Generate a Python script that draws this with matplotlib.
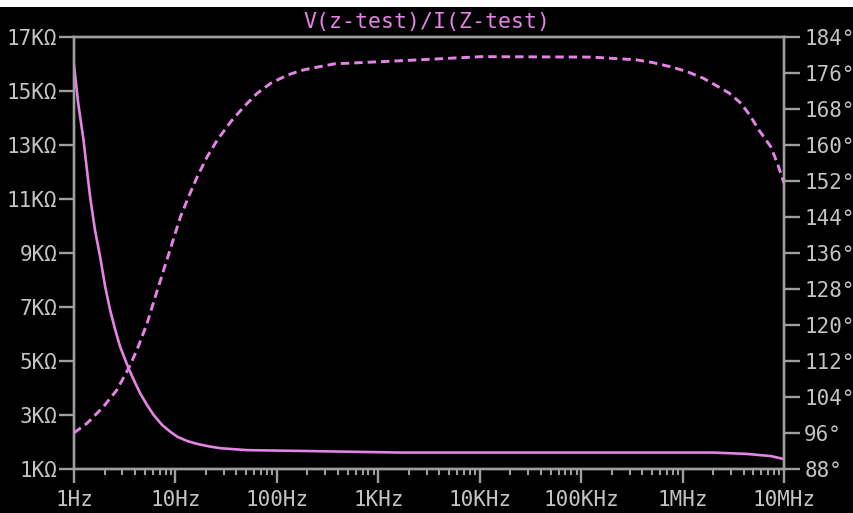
import numpy as np
import matplotlib
matplotlib.use('Agg')
import matplotlib.pyplot as plt
from matplotlib.ticker import FixedLocator, LogLocator, NullFormatter, FixedFormatter
from matplotlib.patches import Rectangle

# Magnitude curve (solid), freq in Hz, |Z| in KOhm
mag_freq = [1, 1.10, 1.24, 1.44, 1.61, 1.81, 2.03, 2.27, 2.55, 2.85, 3.45, 4.02, 4.5,
            5.25, 6.1, 7.4, 8.9, 10.4, 13, 16.4, 22, 27.9, 51, 172, 1700, 2.0e6, 4.3e6,
            7.4e6, 1e7]
mag_kohm = [15.97, 14.56, 13.2, 11.1, 9.86, 8.87, 7.76, 6.9, 6.16, 5.54, 4.74, 4.19, 3.81,
            3.38, 3.01, 2.64, 2.39, 2.21, 2.05, 1.94, 1.84, 1.78, 1.71, 1.68, 1.62, 1.62, 1.57,
            1.49, 1.38]

# Phase curve (dashed), degrees
ph_freq = [1, 1.34, 1.95, 2.64, 3.45, 4.17, 5.25, 6.34, 7.66, 9.27, 11.2, 13.5, 16.4, 20.6,
           25.9, 35, 47.4, 64.3, 87.2, 127, 172, 216, 370, 1690, 10400, 127000, 348000,
           504000, 747000, 1.1e6, 1.6e6, 2.1e6, 2.88e6, 3.78e6, 4.6e6, 5.65e6, 7.4e6,
           8.6e6, 1e7]
ph_deg = [96.1, 98.2, 101.9, 105.6, 110.4, 114.5, 120.4, 126.4, 132.3, 138.2, 144.1, 148.6,
          153.0, 157.5, 161.2, 165.2, 168.6, 171.6, 173.8, 175.6, 176.6, 177.1, 178.1, 178.8,
          179.7, 179.6, 179.0, 178.4, 177.5, 176.4, 174.9, 173.4, 171.6, 169.3, 166.7,
          163.4, 159.7, 156.0, 151.6]

x_ticks = [1, 10, 100, 1e3, 1e4, 1e5, 1e6, 1e7]
x_labels = ['1Hz', '10Hz', '100Hz', '1KHz', '10KHz', '100KHz', '1MHz', '10MHz']
left_ticks = [1, 3, 5, 7, 9, 11, 13, 15, 17]
left_labels = ['%dKΩ' % v for v in left_ticks]
right_ticks = [88, 96, 104, 112, 120, 128, 136, 144, 152, 160, 168, 176, 184]
right_labels = ['%d°' % v for v in right_ticks]

title = 'V(z-test)/I(Z-test)'
curve_col = '#e683e6'
axis_col = '#9e9e9e'
text_col = '#c4c4c4'

plt.rcParams['font.family'] = ['DejaVu Sans Mono', 'DejaVu Sans']

fig = plt.figure(figsize=(8.54, 5.13), dpi=100, facecolor='black')
fig.patches.append(Rectangle((0, 1 - 7 / 513), 1, 7 / 513, transform=fig.transFigure,
                             facecolor='white', edgecolor='none', zorder=-1))

ax = fig.add_axes([74 / 854, 43.7 / 513, 710 / 854, 432 / 513])
ax.set_facecolor('black')
ax2 = ax.twinx()
ax2.patch.set_visible(False)

ax.plot(mag_freq, mag_kohm, color=curve_col, lw=1.9, zorder=3)
ax2.plot(ph_freq, ph_deg, color=curve_col, lw=2.1, dashes=(2.9, 1.7), zorder=3)

ax.set_xscale('log')
ax.set_xlim(1, 1e7)
ax.set_ylim(1, 17)
ax2.set_ylim(88, 184)

ax.xaxis.set_major_locator(FixedLocator(x_ticks))
ax.xaxis.set_major_formatter(FixedFormatter(x_labels))
ax.xaxis.set_minor_locator(LogLocator(base=10, subs=np.arange(2, 10), numticks=20))
ax.xaxis.set_minor_formatter(NullFormatter())
ax.set_yticks(left_ticks)
ax.set_yticklabels(left_labels)
ax2.set_yticks(right_ticks)
ax2.set_yticklabels(right_labels)

for a in (ax, ax2):
    for s in a.spines.values():
        s.set_color(axis_col)
        s.set_linewidth(1.7)
ax.tick_params(axis='x', which='major', direction='out', length=10, width=1.7,
               color=axis_col, labelcolor=text_col, labelsize=15, pad=5)
ax.tick_params(axis='x', which='minor', direction='out', length=4, width=1.5, color=axis_col)
ax.tick_params(axis='y', direction='out', length=11, width=1.7, color=axis_col,
               labelcolor=text_col, labelsize=15, pad=1)
ax2.tick_params(axis='y', direction='out', length=11.5, width=1.7, color=axis_col,
                labelcolor=text_col, labelsize=15, pad=3)

fig.text(0.5, 1 - 22 / 513, title, color=curve_col, fontsize=15.5, ha='center', va='center')

fig.savefig('out.png', dpi=100, facecolor=fig.get_facecolor())
